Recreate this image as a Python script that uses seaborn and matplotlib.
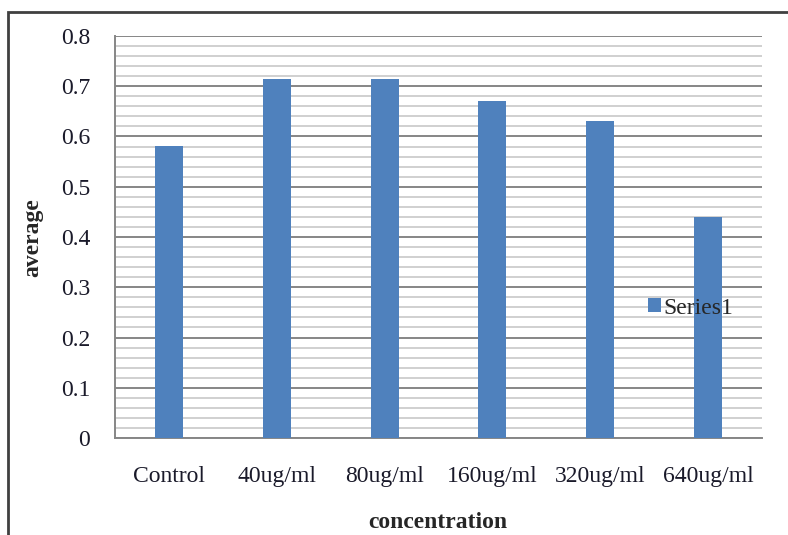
import numpy as np
import pandas as pd
import seaborn as sns
import matplotlib.pyplot as plt
from matplotlib.patches import Rectangle

categories = ['Control', '40ug/ml', '80ug/ml', '160ug/ml', '320ug/ml', '640ug/ml']
average = [0.582, 0.714, 0.714, 0.671, 0.631, 0.44]

df = pd.DataFrame({'concentration': categories, 'average': average})

sns.set_style('white')
plt.rcParams['font.family'] = ['Liberation Serif', 'DejaVu Serif']

fig = plt.figure(figsize=(7.88, 5.35), dpi=100)
ax = fig.add_axes([115 / 788, 1 - 438 / 535, 647 / 788, 402 / 535])

sns.barplot(x='concentration', y='average', data=df, color='#4f81bd',
            width=0.26, saturation=1, linewidth=0, label='Series1',
            ax=ax, zorder=3)

ax.set_ylim(0, 0.8)
ax.set_xlim(-0.5, 5.5)
ax.set_yticks(np.arange(0, 0.81, 0.1))
ax.set_yticklabels(['0', '0.1', '0.2', '0.3', '0.4', '0.5', '0.6', '0.7', '0.8'])
ax.set_yticks(np.arange(0, 0.81, 0.02), minor=True)
ax.grid(which='major', axis='y', color='#868686', linewidth=1.4, zorder=0)
ax.grid(which='minor', axis='y', color='#c4c4c4', linewidth=1.1, zorder=0)
ax.set_axisbelow(True)

for s in ['top', 'right']:
    ax.spines[s].set_visible(False)
for s in ['left', 'bottom']:
    ax.spines[s].set_color('#868686')
    ax.spines[s].set_linewidth(1.4)

ax.tick_params(axis='y', which='major', length=6, width=1.3, color='#868686',
               pad=12, labelsize=17, labelcolor='#1a1a2a')
ax.tick_params(axis='y', which='minor', length=0)
ax.tick_params(axis='x', length=0, pad=20, labelsize=17, labelcolor='#1a1a2a')
ax.set_xlabel('')
ax.set_ylabel('')

fig.text(33 / 788, 1 - 238 / 535, 'average', rotation=90, fontsize=17,
         fontweight='bold', ha='center', va='center')
fig.text(438 / 788, 1 - 522 / 535, 'concentration', fontsize=17,
         fontweight='bold', ha='center', va='center')

ax.legend(loc='center left', bbox_to_anchor=(648 / 788, 1 - 308 / 535),
          bbox_transform=fig.transFigure, frameon=False, fontsize=17,
          handlelength=0.55, handleheight=0.55, handletextpad=0.1,
          borderpad=0, borderaxespad=0)

fig.add_artist(Rectangle((8 / 788, -0.1), 1.2, 1.1 - 12 / 535,
                         transform=fig.transFigure, fill=False,
                         edgecolor='#404040', linewidth=2, clip_on=False))

fig.savefig('out.png', dpi=100)
